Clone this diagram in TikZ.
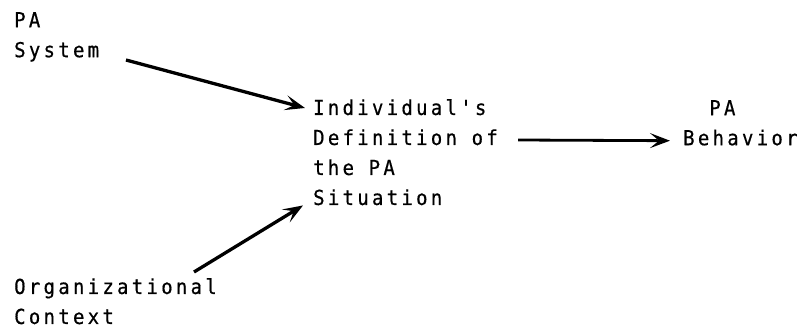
\documentclass[tikz,border=0pt]{standalone}
\usepackage{fontspec}
\usetikzlibrary{arrows.meta,calc}
\newfontfamily\typefont[LetterSpace=16,FakeStretch=0.92,FakeBold=0.6]{DejaVu Sans Mono}

\begin{document}
\begin{tikzpicture}[x=1pt,y=-1pt,lbl/.style={anchor=north west,align=left,inner sep=0pt,font=\typefont\fontsize{20.6}{30}\selectfont},link/.style={-{Stealth[length=20pt,width=15pt,inset=9pt]},line width=3.3pt}]
    \useasboundingbox (0,0) rectangle (805,334);
    \node[lbl] (sys) at (14,12) {PA\\System};
    \node[lbl] (def) at (313,99) {Individual's\\Definition of\\the PA\\Situation};
    \node[lbl] (beh) at (683,100) {\phantom{Be}PA\\Behavior};
    \node[lbl] (org) at (14,278) {Organizational\\Context};
    \coordinate (sysout) at (126,60);
    \coordinate (orgout) at (194,272);
    \coordinate (defout) at (518,140);
    \draw[link] (sysout) -- ([shift={(-8pt,-9pt)}]def.north west);
    \draw[link] (orgout) -- ([xshift=-10pt]def.south west);
    \draw[link,line width=2.8pt] (defout) -- ([shift={(-13pt,5pt)}]beh.south west);
\end{tikzpicture}
\end{document}
